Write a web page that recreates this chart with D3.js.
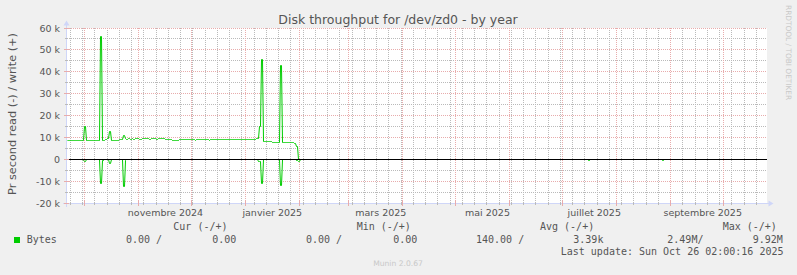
<!DOCTYPE html>
<html>
<head>
<meta charset="utf-8">
<script src="https://cdn.jsdelivr.net/npm/d3@7/dist/d3.min.js"></script>
<style>
  html, body { margin: 0; padding: 0; background: #f0f0f0; }
  svg { display: block; }
</style>
</head>
<body>
<div id="chart"></div>
<script>
// fenêtre de 400 jours (UTC), une valeur moyenne par jour
var DAY = 86400000;
var startDate = Date.UTC(2024, 8, 21, 0, 0, 16);
var endDate = Date.UTC(2025, 9, 26, 0, 0, 16);

// write (+), kB/s, jours 0..133 depuis startDate
var writeKb = [
  8.6, 8.6, 8.6, 8.6, 8.6, 8.6, 8.6, 8.6, 8.6, 8.6,
  15.2, 8.6, 8.6, 8.6, 8.6, 8.6, 8.6, 8.6, 8.6, 56.2,
  9.0, 9.0, 9.1, 9.6, 12.8, 8.8, 8.8, 8.8, 8.8, 8.8,
  9.2, 9.3, 11.0, 9.8, 9.3, 9.7, 9.4, 9.6, 9.3, 9.5,
  9.6, 9.4, 9.2, 9.5, 9.6, 9.5, 9.7, 9.4, 9.5, 9.6,
  9.5, 9.3, 9.5, 9.6, 9.6, 9.5, 9.1, 9.1, 9.1, 9.1,
  9.0, 9.0, 9.0, 9.0, 9.1, 9.1, 9.4, 9.1, 9.1, 9.2,
  9.3, 9.1, 9.1, 9.0, 9.1, 9.4, 9.1, 9.1, 9.3, 9.1,
  9.1, 9.0, 9.4, 9.2, 9.1, 9.3, 9.1, 9.4, 9.1, 9.2,
  9.4, 9.1, 9.1, 9.3, 9.1, 9.4, 9.2, 9.4, 9.1, 9.3,
  9.4, 9.2, 9.3, 9.2, 9.1, 9.2, 9.4, 9.2, 9.5, 9.8,
  15.0, 45.7, 8.2, 8.2, 8.2, 8.2, 8.2, 7.7, 7.9, 8.0,
  8.0, 8.0, 43.0, 7.8, 7.8, 7.7, 7.7, 7.7, 7.8, 7.7,
  7.5, 5.9, 0, 0
];
// read (-), kB/s, mêmes jours (tracé en négatif)
var readKb = [
  0, 0, 0, 0, 0, 0, 0, 0, 0, 0.3,
  0.7, 0, 0, 0, 0, 0, 0, 0, 0, 10.7,
  0.5, 0, 0, 0, 1.5, 0, 0, 0, 0, 0,
  0, 0, 12.2, 0.5, 0, 0, 0, 0, 0, 0,
  0, 0, 0, 0, 0, 0, 0, 0, 0, 0,
  0, 0, 0, 0, 0, 0, 0, 0, 0, 0,
  0, 0, 0, 0, 0, 0, 0, 0, 0, 0,
  0, 0, 0, 0, 0, 0, 0, 0, 0, 0,
  0, 0, 0, 0, 0, 0, 0, 0, 0, 0,
  0, 0, 0, 0, 0, 0, 0, 0, 0, 0,
  0, 0, 0, 0, 0, 0, 0, 0, 0, 0.9,
  0.9, 10.7, 0, 0, 0, 0, 0, 0, 0, 0,
  0, 0, 11.6, 0, 0, 0, 0, 0, 0, 0,
  0, 0.5, 0.9, 0
];
// fin de période : presque tout à zéro (jour de début de chaque palier)
var writeTailDays = [134];
var writeTailKb = [0];
var readTailDays = [134, 298, 299, 340, 341];
var readTailKb = [0, 0.5, 0, 0.5, 0];

var yTicks = [-20000, -10000, 0, 10000, 20000, 30000, 40000, 50000, 60000];
var yTickLabels = ["-20 k", "-10 k", "0", "10 k", "20 k", "30 k", "40 k", "50 k", "60 k"];
var yMinorTicks = [-15000, -5000, 5000, 15000, 25000, 35000, 45000, 55000];

var xLabels = ["novembre 2024", "janvier 2025", "mars 2025", "mai 2025", "juillet 2025", "septembre 2025"];
var xLabelDates = ["2024-11-16", "2025-01-16", "2025-03-19", "2025-05-19", "2025-07-19", "2025-09-19"];

var legendHeaders = ["Cur (-/+)", "Min (-/+)", "Avg (-/+)", "Max (-/+)"];
var legendValues = ["0.00 /", "0.00", "0.00 /", "0.00", "140.00 /", "3.39k", "2.49M/", "9.92M"];
var seriesName = "Bytes";
var lastUpdate = "Last update: Sun Oct 26 02:00:16 2025";

var width = 797, height = 275;
var green = "#00cc00", fontCol = "#555555", axisCol = "#cfd6f8";
var gridCol = "#bababa", mgridCol = "#e8acac";

var svg = d3.select("#chart").append("svg")
  .attr("width", width)
  .attr("height", height)
  .style("font-family", "'DejaVu Sans', sans-serif");

svg.append("rect").attr("width", width).attr("height", height).attr("fill", "#f0f0f0");

var x = d3.scaleUtc().domain([new Date(startDate), new Date(endDate)]).range([67, 767]);
var y = d3.scaleLinear().domain([-20000, 60000]).range([203, 28]);
var px = function(v) { return Math.floor(v) + 0.5; };

// canvas
svg.append("rect")
  .attr("x", 67).attr("y", 28)
  .attr("width", 700).attr("height", 175)
  .attr("fill", "#ffffff");

// minuit heure de Paris
function parisMidnight(d) {
  var t = d.getTime();
  var summer = (t >= Date.UTC(2024, 2, 31) && t < Date.UTC(2024, 9, 27)) ||
               (t >= Date.UTC(2025, 2, 30) && t < Date.UTC(2025, 9, 26));
  return new Date(t - (summer ? 2 : 1) * 3600000);
}
var weeks = d3.utcMonday.range(new Date(startDate), new Date(endDate)).map(function(d) { return parisMidnight(d); });
var months = d3.utcMonth.range(new Date(startDate), new Date(endDate)).map(function(d) { return parisMidnight(d); });

var grid = svg.append("g").attr("stroke-width", 1).attr("stroke-dasharray", "1,1");

// grille mineure
grid.selectAll(".vminor").data(weeks).enter().append("line")
  .attr("class", "vminor")
  .attr("x1", function(d) { return px(x(d)); }).attr("x2", function(d) { return px(x(d)); })
  .attr("y1", 28).attr("y2", 203).attr("stroke", gridCol);
grid.selectAll(".hminor").data(yMinorTicks).enter().append("line")
  .attr("class", "hminor")
  .attr("x1", 67).attr("x2", 767)
  .attr("y1", function(d) { return px(y(d)); }).attr("y2", function(d) { return px(y(d)); })
  .attr("stroke", gridCol);

// grille majeure
grid.selectAll(".vmajor").data(months).enter().append("line")
  .attr("class", "vmajor")
  .attr("x1", function(d) { return px(x(d)); }).attr("x2", function(d) { return px(x(d)); })
  .attr("y1", 28).attr("y2", 203).attr("stroke", mgridCol);
grid.selectAll(".hmajor").data(yTicks).enter().append("line")
  .attr("class", "hmajor")
  .attr("x1", 67).attr("x2", 767)
  .attr("y1", function(d) { return px(y(d)); }).attr("y2", function(d) { return px(y(d)); })
  .attr("stroke", mgridCol);

// séries : comme rrdtool, une valeur par colonne de pixels
function valueAt(daily, tailDays, tailVals, t) {
  var d = Math.floor((t - startDate) / DAY);
  if (d < daily.length) return daily[Math.max(d, 0)];
  var v = 0;
  tailDays.forEach(function(td, i) { if (td <= d) v = tailVals[i]; });
  return v;
}
var cols = d3.range(x.range()[0], x.range()[1]);
function buildSeries(daily, tailDays, tailVals, sign) {
  return cols.map(function(c) {
    var t = x.invert(c + 0.5).getTime();
    return { c: c, v: sign * valueAt(daily, tailDays, tailVals, t) * 1000 };
  });
}
var line = d3.line()
  .x(function(d) { return d.c + 0.5; })
  .y(function(d) { return Math.round(y(d.v)) + 0.5; });

svg.append("path")
  .datum(buildSeries(readKb, readTailDays, readTailKb, -1))
  .attr("d", line).attr("fill", "none").attr("stroke", green).attr("stroke-width", 1);
svg.append("path")
  .datum(buildSeries(writeKb, writeTailDays, writeTailKb, 1))
  .attr("d", line).attr("fill", "none").attr("stroke", green).attr("stroke-width", 1);

// ligne zéro
svg.append("line")
  .attr("x1", 67).attr("x2", 767)
  .attr("y1", px(y(0))).attr("y2", px(y(0)))
  .attr("stroke", "#000000").attr("stroke-width", 1);

// axes
svg.append("line").attr("x1", 66.5).attr("x2", 66.5).attr("y1", 25).attr("y2", 207).attr("stroke", axisCol);
svg.append("path").attr("d", "M66.5,20.5L69.5,25.5L63.5,25.5Z").attr("fill", axisCol);
svg.append("line").attr("x1", 63).attr("x2", 769).attr("y1", 203.5).attr("y2", 203.5).attr("stroke", axisCol);
svg.append("path").attr("d", "M773.5,203.5L768.5,200.5L768.5,206.5Z").attr("fill", axisCol);

// petites graduations
svg.selectAll(".tw").data(weeks).enter().append("line")
  .attr("class", "tw")
  .attr("x1", function(d) { return px(x(d)); }).attr("x2", function(d) { return px(x(d)); })
  .attr("y1", 202).attr("y2", 205).attr("stroke", gridCol);
svg.selectAll(".tm").data(months).enter().append("line")
  .attr("class", "tm")
  .attr("x1", function(d) { return px(x(d)); }).attr("x2", function(d) { return px(x(d)); })
  .attr("y1", 201).attr("y2", 206).attr("stroke", mgridCol);
svg.selectAll(".ty").data(yMinorTicks).enter().append("line")
  .attr("class", "ty")
  .attr("x1", 65).attr("x2", 68)
  .attr("y1", function(d) { return px(y(d)); }).attr("y2", function(d) { return px(y(d)); })
  .attr("stroke", gridCol);
svg.selectAll(".tY").data(yTicks).enter().append("line")
  .attr("class", "tY")
  .attr("x1", 64).attr("x2", 69)
  .attr("y1", function(d) { return px(y(d)); }).attr("y2", function(d) { return px(y(d)); })
  .attr("stroke", mgridCol);

// libellés axe Y
var yAxis = svg.append("g")
  .attr("transform", "translate(60,0)")
  .call(d3.axisLeft(y).tickValues(yTicks)
    .tickFormat(function(d, i) { return yTickLabels[i]; })
    .tickSize(0).tickPadding(0));
yAxis.select(".domain").remove();
yAxis.selectAll("text")
  .attr("fill", fontCol)
  .style("font-family", "'DejaVu Sans', sans-serif")
  .style("font-size", "9.5px");

// libellés axe X
var parseDay = d3.utcParse("%Y-%m-%d");
var xAxis = svg.append("g")
  .attr("transform", "translate(0,203)")
  .call(d3.axisBottom(x).tickValues(xLabelDates.map(parseDay))
    .tickFormat(function(d, i) { return xLabels[i]; })
    .tickSize(0).tickPadding(6));
xAxis.select(".domain").remove();
xAxis.selectAll("text")
  .attr("fill", fontCol)
  .style("font-family", "'DejaVu Sans', sans-serif")
  .style("font-size", "9.5px");

// titre
svg.append("text")
  .attr("x", 398).attr("y", 24)
  .attr("text-anchor", "middle")
  .attr("fill", fontCol)
  .style("font-size", "12.5px")
  .text("Disk throughput for /dev/zd0 - by year");

// titre axe Y
svg.append("text")
  .attr("transform", "translate(15.5,114) rotate(-90)")
  .attr("text-anchor", "middle")
  .attr("fill", fontCol)
  .style("font-size", "11.3px")
  .text("Pr second read (-) / write (+)");

// filigranes
svg.append("text")
  .attr("transform", "translate(785.5,5) rotate(90)")
  .attr("fill", "#c8c8c8")
  .style("font-size", "7.4px")
  .text("RRDTOOL / TOBI OETIKER");
svg.append("text")
  .attr("x", 398).attr("y", 266)
  .attr("text-anchor", "middle")
  .attr("fill", "#c8c8c8")
  .style("font-size", "7.6px")
  .text("Munin 2.0.67");

// légende
var legend = svg.append("g")
  .attr("fill", fontCol)
  .style("font-family", "'DejaVu Sans Mono', monospace")
  .style("font-size", "10px");
var headerX = [173.3, 356.7, 540, 722.7];
legend.selectAll(".lh").data(legendHeaders).enter().append("text")
  .attr("class", "lh")
  .attr("x", function(d, i) { return headerX[i]; }).attr("y", 230)
  .text(function(d) { return d; });
var valueX = [126, 212.3, 306, 393.3, 476, 573.3, 667.3, 752.7];
legend.selectAll(".lv").data(legendValues).enter().append("text")
  .attr("class", "lv")
  .attr("x", function(d, i) { return valueX[i]; }).attr("y", 243)
  .style("white-space", "pre")
  .text(function(d) { return d; });
legend.append("rect")
  .attr("x", 14).attr("y", 237).attr("width", 6).attr("height", 6)
  .attr("fill", green);
legend.append("text").attr("x", 26.7).attr("y", 243).text(seriesName);
legend.append("text").attr("x", 783.5).attr("y", 255)
  .attr("text-anchor", "end")
  .text(lastUpdate);
</script>
</body>
</html>
